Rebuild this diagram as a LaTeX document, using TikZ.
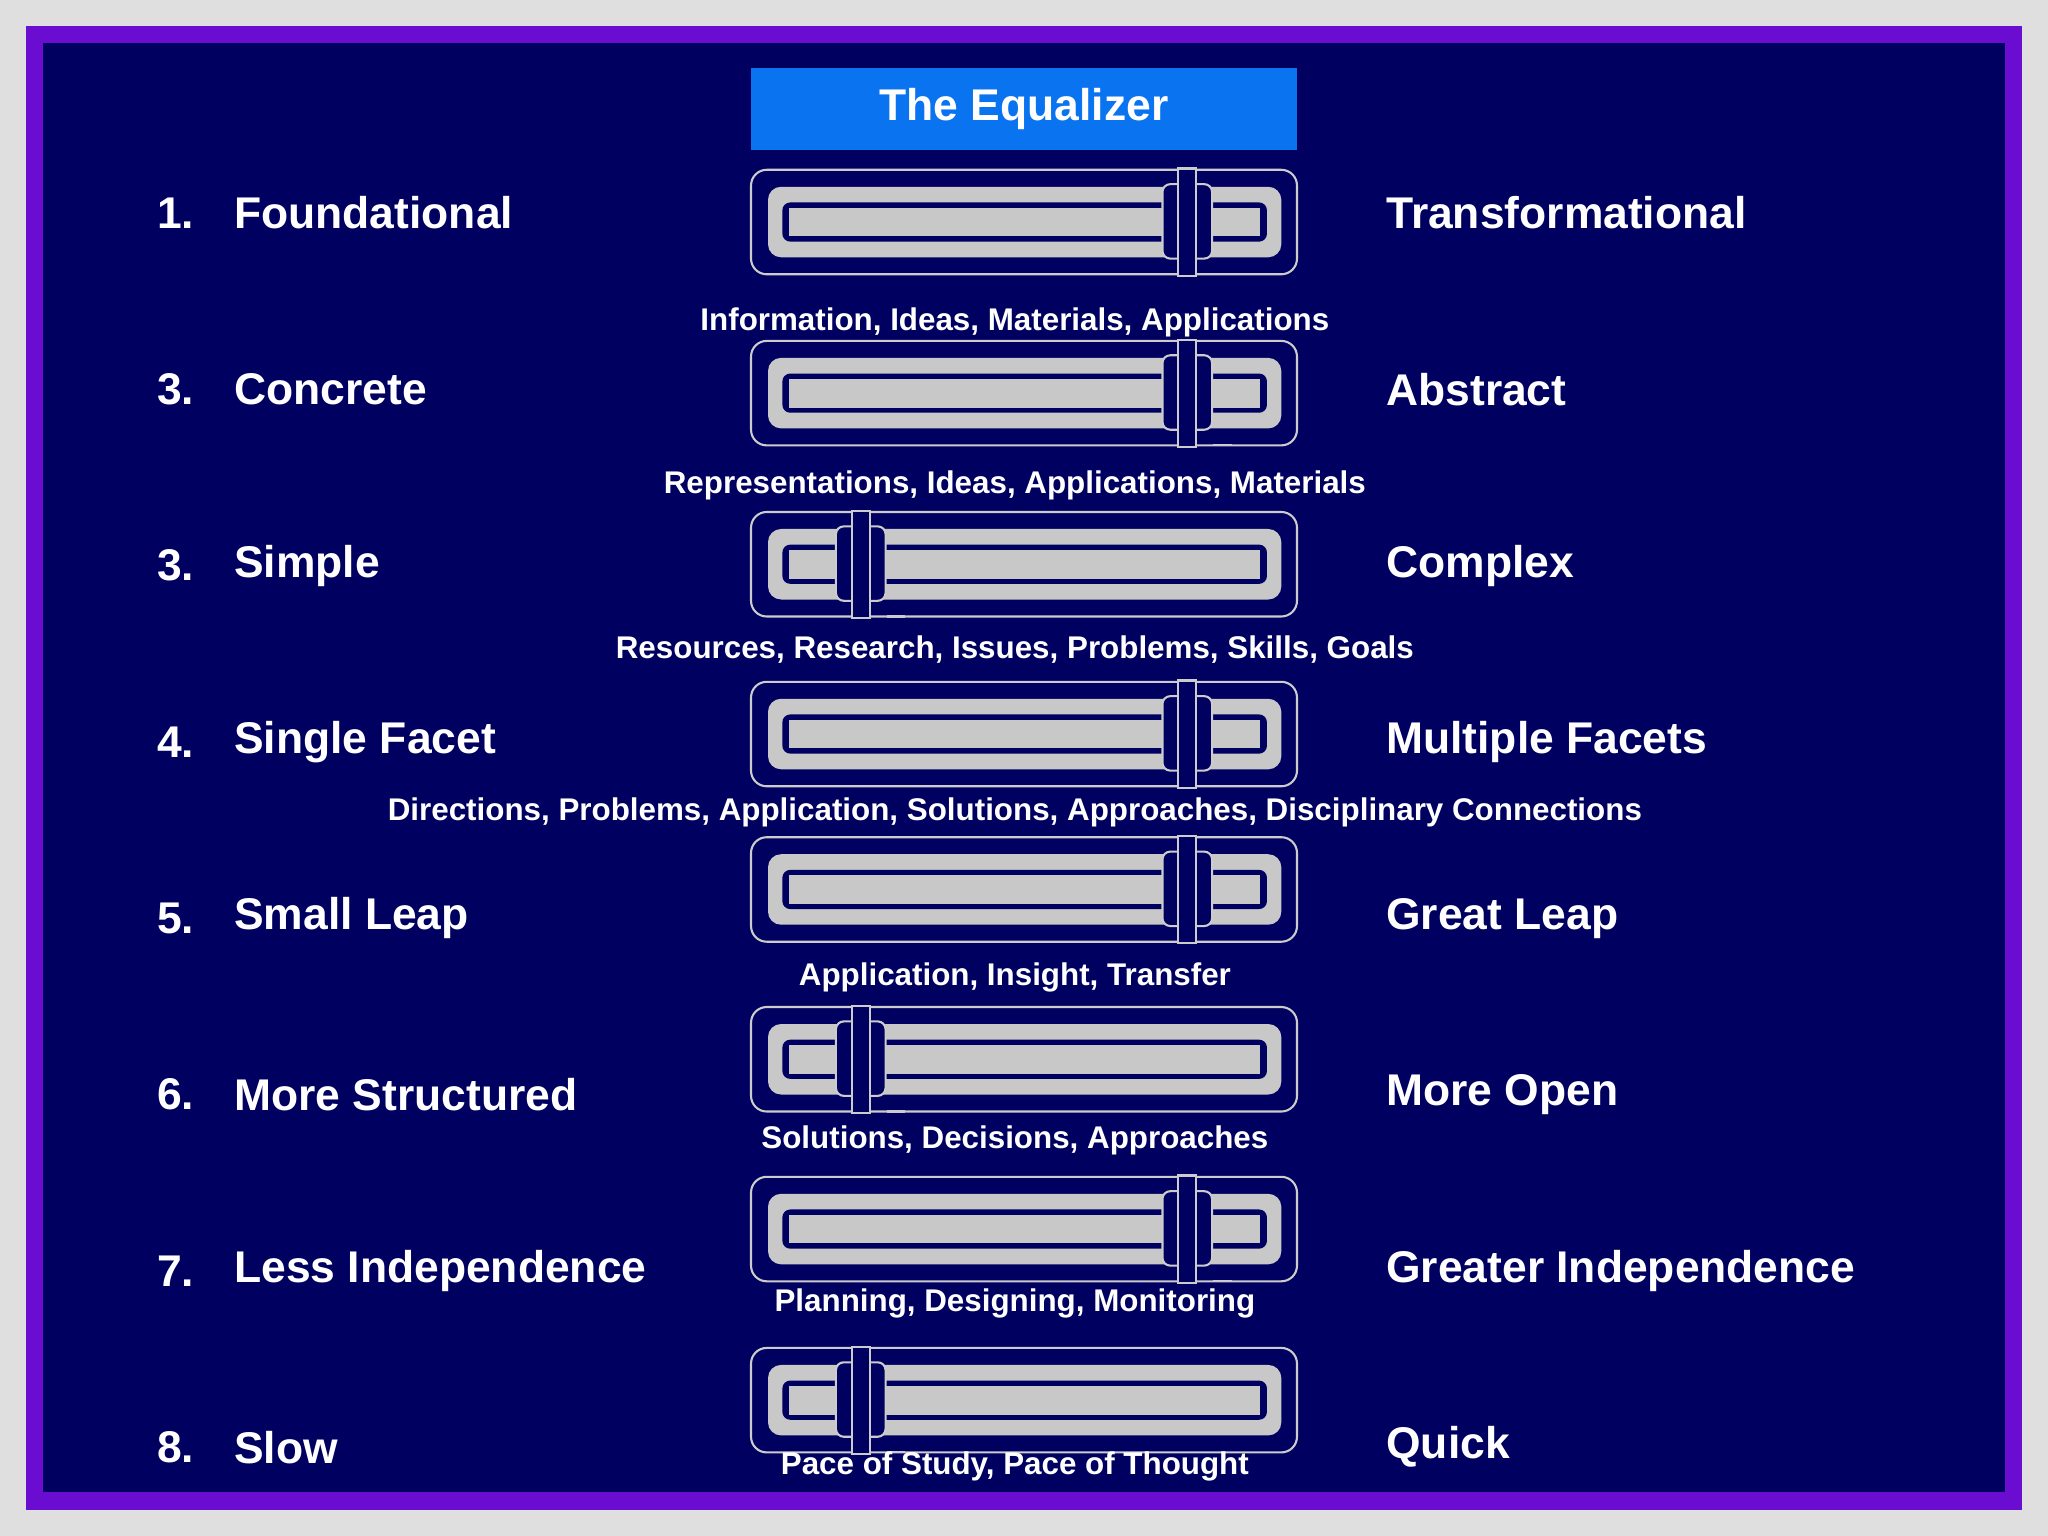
\documentclass[tikz,border=0pt]{standalone}
\usepackage{fontspec}
\setmainfont{Liberation Sans}
\begin{document}
\begin{tikzpicture}[x=0.5pt,y=-0.5pt,
  big/.style={text=white,font=\bfseries\fontsize{17}{20}\selectfont,anchor=west,inner sep=0},
  sub/.style={text=white,font=\bfseries\fontsize{12}{14}\selectfont,inner sep=0},
  lg/.style={draw=lightgray!80,line width=0.8pt}]
\definecolor{navy}{HTML}{000060}
\definecolor{frame}{HTML}{6A0DD0}
\definecolor{bar}{HTML}{C8C8C8}
\definecolor{titleblue}{HTML}{0A74F0}
\fill[gray!25] (0,0) rectangle (1568,1176);
\fill[frame] (20,20) rectangle (1548,1156);
\fill[navy] (33,33) rectangle (1535,1142);
\node[fill=titleblue,minimum width=209pt,minimum height=31.5pt,inner sep=0,text=white,font=\bfseries\fontsize{17}{20}\selectfont] (title) at (784,83.5) {The Equalizer};
\newcommand{\slider}[3]{%
 \begin{scope}[shift={(575,#1)}]
  \draw[lg,fill=navy,rounded corners=6pt] (0,0) rectangle (418,80);
  \fill[bar,rounded corners=5pt] (13,13) rectangle (406,67);
  \fill[navy,rounded corners=3pt] (24,25) rectangle (395,55);
  \fill[bar] (29,29) rectangle (390,51);
  \draw[lg] (#2+20,0) -- (#2+34,0) (#2+20,80) -- (#2+34,80);
  \draw[lg,fill=navy,rounded corners=3pt] (#2-19,11) rectangle (#2+19,68);
  \draw[lg,fill=navy] (#2-7,-1) rectangle (#2+7,81);
  \coordinate (#3) at (209,40);
 \end{scope}}
\slider{130}{334}{s1}
\slider{261}{334}{s2}
\slider{392}{84}{s3}
\slider{522}{334}{s4}
\slider{641}{334}{s5}
\slider{771}{84}{s6}
\slider{901}{334}{s7}
\slider{1032}{84}{s8}
\foreach \y/\n/\a/\b in {163/1./Foundational/Transformational,298/3./Concrete/Abstract,433/3./Simple/Complex,568/4./Single Facet/Multiple Facets,703/5./Small Leap/Great Leap,838/6./More Structured/More Open,973/7./Less Independence/Greater Independence,1108/8./Slow/Quick}{
 \node[big] (n\y) at (120,\y) {\n};
 \node[big] (l\y) at (179,\y) {\a};
 \node[big] (r\y) at (1061,\y) {\b};
}
\node[sub] (t1) at (777,247) {Information, Ideas, Materials, Applications};
\node[sub] (t2) at (777,372) {Representations, Ideas, Applications, Materials};
\node[sub] (t3) at (777,497) {Resources, Research, Issues, Problems, Skills, Goals};
\node[sub] (t4) at (777,622) {Directions, Problems, Application, Solutions, Approaches, Disciplinary Connections};
\node[sub] (t5) at (777,748) {Application, Insight, Transfer};
\node[sub] (t6) at (777,873) {Solutions, Decisions, Approaches};
\node[sub] (t7) at (777,998) {Planning, Designing, Monitoring};
\node[sub] (t8) at (777,1123) {Pace of Study, Pace of Thought};
\end{tikzpicture}
\end{document}
